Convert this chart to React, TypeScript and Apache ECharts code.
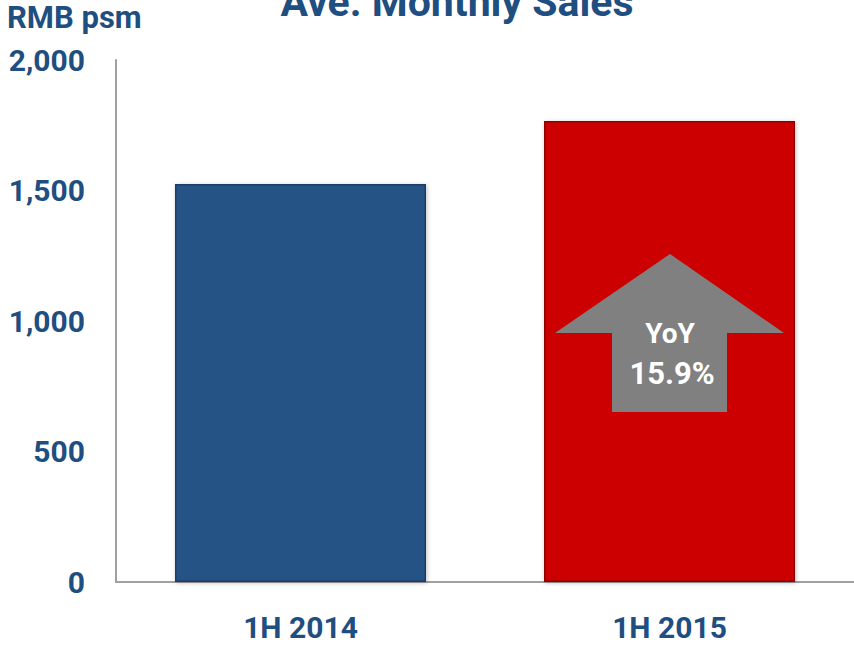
import React, { useEffect, useRef } from "react";
import * as echarts from "echarts";

const categories = ["1H 2014", "1H 2015"];
const values = [1525, 1766];
const barColors = ["#285286", "#CC0000"];
const yTicks = [0, 500, 1000, 1500, 2000];
const yoyLabel = ["YoY", "15.9%"];
const titleText = "Ave. Monthly Sales";
const unitText = "RMB psm";

const textColor = "#1F4E80";
const font = "Roboto";

export default function App() {
  const ref = useRef<HTMLDivElement>(null);
  useEffect(() => {
    if (!ref.current) return;
    const chart = echarts.init(ref.current, null, { renderer: "svg" });
    chart.setOption({
      animation: false,
      backgroundColor: "#ffffff",
      grid: { left: 116, right: -2, top: 60, bottom: 64, containLabel: false },
      xAxis: {
        type: "category",
        data: categories,
        axisLine: { show: true, lineStyle: { color: "#A0A0A0", width: 2 } },
        axisTick: { show: false },
        axisLabel: {
          margin: 30,
          color: textColor,
          fontFamily: font,
          fontWeight: "bold",
          fontSize: 30,
        },
      },
      yAxis: {
        type: "value",
        min: yTicks[0],
        max: yTicks[yTicks.length - 1],
        interval: 500,
        splitLine: { show: false },
        axisLine: { show: true, lineStyle: { color: "#A0A0A0", width: 2 } },
        axisTick: { show: false },
        axisLabel: {
          margin: 31,
          color: textColor,
          fontFamily: font,
          fontWeight: "bold",
          fontSize: 30,
          formatter: (v: number) => v.toLocaleString("en-US"),
        },
      },
      series: [
        {
          type: "bar",
          barWidth: 251,
          data: values.map((v, i) => ({
            value: v,
            itemStyle: {
              color: barColors[i],
              borderColor: i === 0 ? "#1B3C66" : "#8E0000",
              borderWidth: 1.5,
              shadowColor: "rgba(0,0,0,0.25)",
              shadowBlur: 4,
              shadowOffsetX: 1,
              shadowOffsetY: 1,
            },
          })),
        },
      ],
      graphic: [
        {
          type: "text",
          x: 457,
          y: -19,
          style: {
            text: titleText,
            fill: textColor,
            font: `bold 41px ${font}`,
            align: "center",
            verticalAlign: "top",
          },
        },
        {
          type: "text",
          x: 7,
          y: 2,
          style: {
            text: unitText,
            fill: textColor,
            font: `bold 31px ${font}`,
          },
        },
        {
          type: "polygon",
          shape: {
            points: [
              [670, 254],
              [784, 333],
              [727, 333],
              [727, 412],
              [612, 412],
              [612, 333],
              [555, 333],
            ],
          },
          style: { fill: "#808080" },
          z: 10,
        },
        {
          type: "text",
          x: 670,
          y: 333,
          style: {
            text: yoyLabel[0],
            fill: "#ffffff",
            font: `bold 28px ${font}`,
            align: "center",
            verticalAlign: "middle",
          },
          z: 11,
        },
        {
          type: "text",
          x: 672,
          y: 373,
          style: {
            text: yoyLabel[1],
            fill: "#ffffff",
            font: `bold 31px ${font}`,
            align: "center",
            verticalAlign: "middle",
          },
          z: 11,
        },
      ],
    });
    return () => chart.dispose();
  }, []);
  return <div ref={ref} style={{ width: 854, height: 646, position: "fixed", left: 0, top: 0 }} />;
}
